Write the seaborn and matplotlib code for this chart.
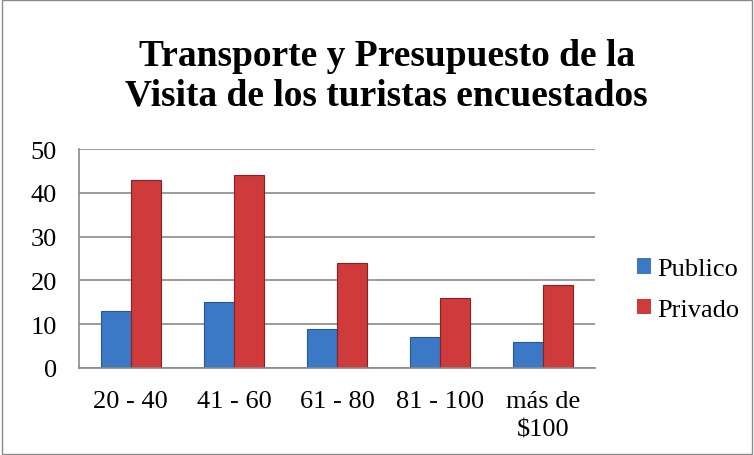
import pandas as pd
import matplotlib
matplotlib.use("Agg")
import matplotlib.pyplot as plt
import seaborn as sns

# Data
categorias = ["20 - 40", "41 - 60", "61 - 80", "81 - 100", "más de\n\\$100"]
publico = [13, 15, 9, 7, 6]
privado = [43, 44, 24, 16, 19]

df = pd.DataFrame({
    "Presupuesto": categorias * 2,
    "Valor": publico + privado,
    "Transporte": ["Publico"] * len(categorias) + ["Privado"] * len(categorias),
})

sns.set_theme(style="white")
plt.rcParams["font.family"] = ["Liberation Serif", "DejaVu Serif"]

fig = plt.figure(figsize=(7.54, 4.56), dpi=100)
ax = fig.add_axes([0.105, 0.191, 0.684, 0.480])

sns.barplot(
    data=df, x="Presupuesto", y="Valor", hue="Transporte",
    palette={"Publico": "#3b78c6", "Privado": "#cf3a3a"},
    width=0.58, gap=0, ax=ax, edgecolor="none", saturation=1,
)
for bar, col in zip(ax.patches, ["#25589a"] * 5 + ["#8e1f1f"] * 5):
    if bar.get_height() > 0:
        bar.set_edgecolor(col)
        bar.set_linewidth(0.8)

ax.set_ylim(0, 50)
ax.set_yticks(range(0, 51, 10))
ax.yaxis.grid(True, color="#8a8a8a", linewidth=1.2)
ax.set_axisbelow(True)
for s in ["top", "right"]:
    ax.spines[s].set_visible(False)
for s in ["left", "bottom"]:
    ax.spines[s].set_color("#8a8a8a")
    ax.spines[s].set_linewidth(1.2)
ax.set_xlabel("")
ax.set_ylabel("")
ax.tick_params(axis="x", labelsize=19, colors="black", length=0, pad=16)
ax.tick_params(axis="y", labelsize=19, colors="black", length=0, pad=16)
for lab in ax.get_xticklabels():
    lab.set_linespacing(1.35)

leg = ax.legend(loc="center left", bbox_to_anchor=(1.035, 0.358), frameon=False,
                fontsize=19, handlelength=0.53, handleheight=0.53, handletextpad=0.23,
                labelspacing=0.7)
for t in leg.get_texts():
    t.set_color("black")

fig.text(0.513, 0.833, "Transporte y Presupuesto de la\nVisita de los turistas encuestados",
         ha="center", va="center", fontsize=27, fontweight="bold", linespacing=1.17,
         color="black")

fig.patches.append(plt.Rectangle((0.002, 0.002), 0.996, 0.996, transform=fig.transFigure,
                                 fill=False, edgecolor="#8a8a8a", linewidth=1))

fig.savefig("out.png", dpi=100, facecolor="white")
